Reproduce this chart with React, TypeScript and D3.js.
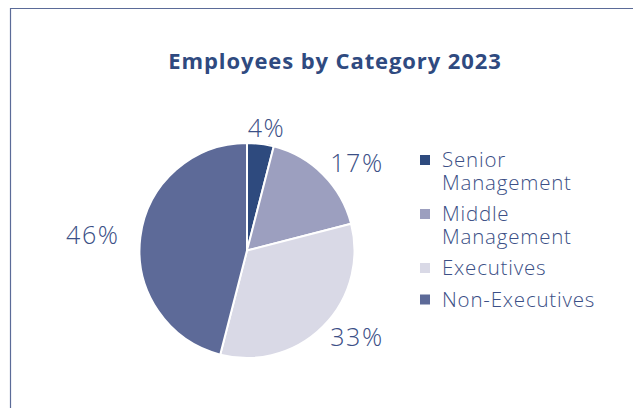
import React from "react";
import * as d3 from "d3";

const categories = ["Senior Management", "Middle Management", "Executives", "Non-Executives"];
const legendLines = [["Senior", "Management"], ["Middle", "Management"], ["Executives"], ["Non-Executives"]];
const values = [4, 17, 33, 46];
const colors = ["#2e4a7e", "#9c9fbf", "#d9d9e6", "#5d6a98"];
const title = "Employees by Category 2023";

const W = 633, H = 408;
const cx = 247, cy = 250.5, R = 107.5;
const textColor = "#3b4f86";
const font = "'Open Sans', sans-serif";

export default function App() {
  const pie = d3.pie<number>().value(d => d).sort(null);
  const arcs = pie(values);
  const arc = d3.arc<d3.PieArcDatum<number>>().innerRadius(0).outerRadius(R);

  // label placement: elliptical offset outside the pie (wider horizontally for text width)
  const labelPos = (a: d3.PieArcDatum<number>) => {
    const ang = (a.startAngle + a.endAngle) / 2;
    const rx = R + 48, ry = R + 15;
    return [rx * Math.sin(ang), -ry * Math.cos(ang)];
  };

  let y = 160;
  const legendItems = legendLines.map((lines, i) => {
    const item = { lines, y, color: colors[i], name: categories[i] };
    y += lines.length * 22.5 + 9;
    return item;
  });

  return (
    <svg width={W} height={H} style={{ position: "absolute", left: 0, top: 0 }}>
      <rect width={W} height={H} fill="#fff" />
      <path d={`M10.5,${H} L10.5,8.5 L${W},8.5`} fill="none" stroke="#5b6b98" strokeWidth={1.2} />
      <text x={335} y={69} textAnchor="middle" fill="#2f4a80" fontFamily={font} fontWeight={700} fontSize={22} letterSpacing={0.9}>
        {title}
      </text>
      <g transform={`translate(${cx},${cy})`}>
        {arcs.map((a, i) => (
          <path key={i} d={arc(a) || ""} fill={colors[i]} stroke="#fff" strokeWidth={2} strokeLinejoin="round" />
        ))}
        {arcs.map((a, i) => {
          const [lx, ly] = labelPos(a);
          return (
            <text key={"l" + i} x={lx} y={ly + 8.5} textAnchor="middle" fill={textColor}
              fontFamily={font} fontWeight={300} fontSize={25} letterSpacing={1.5}>
              {values[i]}%
            </text>
          );
        })}
      </g>
      {legendItems.map((it, i) => (
        <g key={"lg" + i}>
          <rect x={420} y={it.y - 5} width={10} height={10} fill={it.color} />
          <text x={442} y={it.y + 7} fill={textColor} fontFamily={font} fontWeight={300} fontSize={20.5} letterSpacing={0.8}>
            {it.lines.map((ln, j) => (
              <tspan key={j} x={442} dy={j === 0 ? 0 : 22.5}>{ln}</tspan>
            ))}
          </text>
        </g>
      ))}
    </svg>
  );
}
